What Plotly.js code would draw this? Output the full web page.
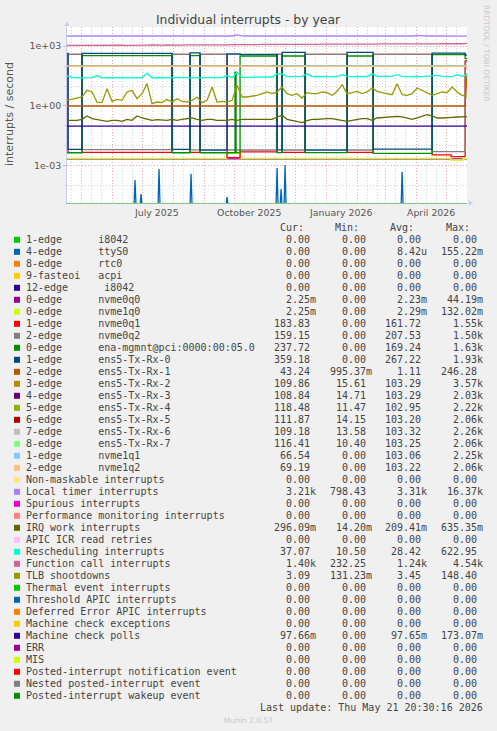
<!DOCTYPE html>
<html><head><meta charset="utf-8">
<script src="https://cdn.plot.ly/plotly-3.0.1.min.js"></script>
<style>html,body{margin:0;padding:0;background:#f0f0f0;}#chart{width:497px;height:731px;}</style>
</head><body><div id="chart"></div>
<script>
// ---------------- DATA ----------------
const START = '2025-04-17';
const END = '2026-05-21 20:30';
const FLOOR = 1e-5; // a zero, drawn at the foot of the log axis

const seriesLabels = ["1-edge      i8042","4-edge      ttyS0","8-edge      rtc0","9-fasteoi   acpi","12-edge      i8042","0-edge      nvme0q0","0-edge      nvme1q0","1-edge      nvme0q1","2-edge      nvme0q2","0-edge      ena-mgmnt@pci:0000:00:05.0","1-edge      ens5-Tx-Rx-0","2-edge      ens5-Tx-Rx-1","3-edge      ens5-Tx-Rx-2","4-edge      ens5-Tx-Rx-3","5-edge      ens5-Tx-Rx-4","6-edge      ens5-Tx-Rx-5","7-edge      ens5-Tx-Rx-6","8-edge      ens5-Tx-Rx-7","1-edge      nvme1q1","2-edge      nvme1q2","Non-maskable interrupts","Local timer interrupts","Spurious interrupts","Performance monitoring interrupts","IRQ work interrupts","APIC ICR read retries","Rescheduling interrupts","Function call interrupts","TLB shootdowns","Thermal event interrupts","Threshold APIC interrupts","Deferred Error APIC interrupts","Machine check exceptions","Machine check polls","ERR","MIS","Posted-interrupt notification event","Nested posted-interrupt event","Posted-interrupt wakeup event"];
const seriesColors = ['#00CC00','#0066B3','#FF8000','#FFCC00','#330099','#990099','#CCFF00','#FF0000','#808080','#008F00','#00487D','#B35A00','#B38F00','#6B006B','#8FB300','#B30000','#BEBEBE','#80FF80','#80C9FF','#FFC080','#FFE680','#AA80FF','#EE00CC','#FF8080','#666600','#FFBFFF','#00FFCC','#CC6699','#999900','#00CC00','#0066B3','#FF8000','#FFCC00','#330099','#990099','#CCFF00','#FF0000','#808080','#008F00'];
const curText = ["0.00","0.00","0.00","0.00","0.00","2.25m","2.25m","183.83","159.15","237.72","359.18","43.24","109.86","108.84","118.48","111.87","109.18","116.41","66.54","69.19","0.00","3.21k","0.00","0.00","296.09m","0.00","37.07","1.40k","3.09","0.00","0.00","0.00","0.00","97.66m","0.00","0.00","0.00","0.00","0.00"];
const minText = ["0.00","0.00","0.00","0.00","0.00","0.00","0.00","0.00","0.00","0.00","0.00","995.37m","15.61","14.71","11.47","14.15","13.58","10.40","0.00","0.00","0.00","798.43","0.00","0.00","14.20m","0.00","10.50","232.25","131.23m","0.00","0.00","0.00","0.00","0.00","0.00","0.00","0.00","0.00","0.00"];
const avgText = ["0.00","8.42u","0.00","0.00","0.00","2.23m","2.29m","161.72","207.53","169.24","267.22","1.11","103.29","103.29","102.95","103.20","103.32","103.25","103.06","103.22","0.00","3.31k","0.00","0.00","209.41m","0.00","28.42","1.24k","3.45","0.00","0.00","0.00","0.00","97.65m","0.00","0.00","0.00","0.00","0.00"];
const maxText = ["0.00","155.22m","0.00","0.00","0.00","44.19m","132.02m","1.55k","1.50k","1.63k","1.93k","246.28","3.57k","2.03k","2.22k","2.06k","2.26k","2.06k","2.25k","2.06k","0.00","16.37k","0.00","0.00","635.35m","0.00","622.95","4.54k","148.40","0.00","0.00","0.00","0.00","173.07m","0.00","0.00","0.00","0.00","0.00"];

const xLabelDates = ['2025-07-15','2025-10-16','2026-01-15','2026-04-16'];
const xLabelText = ['July 2025','October 2025','January 2026','April 2026'];
const yTickVals = [1e-3, 1, 1e3];
const yTickText = ['1e-03','1e+00','1e+03'];

// 5-day sampled series (80 samples from START every 5 days, then the last value at END)
const tlb = [1.92,2.16,2.33,2.83,6.1,5.04,1.58,1.47,7.4,1.71,
  2.16,1.92,5.04,6.1,2.33,4.15,13.2,1.31,1.58,1.47,
  2.16,1.58,2.33,1.71,1.58,1.92,2.83,1.47,1.92,8.97,
  1.58,1.71,1.58,1.92,10.9,2.83,2.83,3.05,3.43,4.15,
  5.04,4.15,5.04,8.97,4.15,3.43,4.15,2.52,4.66,4.15,
  4.15,5.04,4.66,3.43,5.43,11.7,4.15,4.66,5.43,4.15,
  5.04,8.0,5.43,4.66,4.15,3.7,13.2,3.7,3.43,4.15,
  8.0,6.1,4.66,3.43,4.15,5.04,4.66,8.97,5.04,3.43,3.09];
const irqWork = [0.191,0.191,0.191,0.214,0.315,0.231,0.214,0.191,0.170,0.191,
  0.191,0.170,0.214,0.191,0.315,0.250,0.214,0.191,0.206,0.191,
  0.191,0.214,0.191,0.214,0.231,0.250,0.214,0.191,0.214,0.214,
  0.191,0.191,0.191,0.214,0.191,0.214,0.214,0.214,0.231,0.214,
  0.214,0.214,0.281,0.340,0.214,0.191,0.170,0.146,0.184,0.214,
  0.214,0.231,0.231,0.231,0.214,0.184,0.170,0.191,0.214,0.231,
  0.231,0.191,0.250,0.260,0.270,0.281,0.303,0.281,0.250,0.214,
  0.250,0.303,0.367,0.315,0.250,0.250,0.250,0.270,0.281,0.281,0.296];
const resched = [32,27,26,26.5,26,26.5,33.6,26,26.4,26,
  27,26,26.4,26,26.5,26,45,26,26.5,26,
  26.4,26,27,26,26.5,26,26.4,26,26.5,26,
  26,26.5,33.6,26.5,50,27,27.5,28,28,28.5,
  29,28.5,41,41,30,30.5,30,30.5,41,30,
  30.5,30,31,30.5,30,37,30.5,30,31,30.5,
  30,41,30.5,30,31,30.5,37,30.5,30,31,
  30.5,30,31,30.5,34,30.5,31,30,37,30.5,37.07];
const localTimer = [3250,3250,3240,3250,3260,3250,3250,3240,3250,3250,
  3260,3250,3250,3240,3250,3250,3260,3250,3250,3500,
  3250,3240,3250,3260,3250,3250,3240,3250,3250,3260,
  3250,3250,3240,3250,3700,3260,3250,3250,3240,3250,
  3260,3250,3250,3240,3250,3260,3250,3250,3240,3250,
  3260,3250,3250,3240,3250,3000,3250,3260,3250,3250,
  3240,3250,3260,3250,3250,3240,3250,3250,3260,3250,
  3500,3250,3240,3250,3260,3250,3250,3240,3250,3250,3210];
const funcCall = [1100,1110,1090,1120,1100,1110,1130,1100,1120,1110,
  1130,1120,1100,1130,1140,1120,1130,1150,1120,1140,
  1160,1130,1150,1140,1160,1150,1170,1150,1180,1160,
  1170,1190,1170,1200,1180,1190,1210,1190,1200,1220,
  1200,1210,1230,1210,1220,1240,1220,1230,1250,1230,
  1240,1260,1240,1250,1270,1250,1260,1280,1260,1270,
  1290,1270,1280,1300,1280,1290,1310,1290,1300,1320,
  1300,1310,1330,1310,1320,1340,1320,1330,1350,1330,1400];

// step series (value holds from each date to the next)
const txrx0Dates = ['2025-04-17','2025-04-18','2025-05-02','2025-07-31','2025-08-18','2025-08-28','2025-09-24','2025-10-07','2025-11-13','2025-11-18','2025-12-11','2026-01-22','2026-02-17','2026-04-17','2026-05-20',END];
const txrx0Vals  = [440,6.7e-3,440,6.7e-3,460,6.2e-3,405,390,6.3e-3,495,6.2e-3,495,6.9e-3,450,359.18,359.18];
const enaDates = ['2025-04-17','2025-05-02','2025-07-31','2025-08-18','2025-08-28','2025-10-02','2025-10-03','2025-10-07','2025-11-13','2025-11-18','2025-12-11','2026-01-22','2026-02-17','2026-04-17','2026-05-20',END];
const enaVals  = [4.5e-3,333,4.5e-3,333,4.5e-3,50,4.6e-3,322,4.6e-3,322,4.6e-3,322,4.2e-3,375,237.72,237.72];
const nvme0q1Dates = ['2025-04-17','2025-04-18','2025-05-02','2025-07-31','2025-08-18','2025-08-28','2025-09-24','2025-10-07','2025-11-13','2025-11-18','2025-12-11','2026-01-22','2026-02-17','2026-04-17','2026-05-06','2026-05-20',END];
const nvme0q1Vals  = [4.75e-3,385,4.75e-3,385,4.75e-3,385,2.55e-3,5.0e-3,385,4.75e-3,385,4.75e-3,385,3.5e-3,2.9e-3,183.83,183.83];
const nvme0q2Dates = ['2025-04-17','2025-04-18','2025-05-02','2025-07-31','2025-08-18','2025-08-28','2025-09-24','2025-11-13','2025-11-18','2025-12-11','2026-01-22','2026-02-17','2026-04-17','2026-05-20',END];
const nvme0q2Vals  = [6.5e-3,393,6.5e-3,393,6.3e-3,393,6.2e-3,393,6.2e-3,393,6.2e-3,393,5.1e-3,159.15,159.15];
const nvme1q0Dates = ['2025-04-17','2025-09-24','2025-10-07','2026-05-06','2026-05-18',END];
const nvme1q0Vals  = [2.38e-3,4.2e-3,2.38e-3,1.95e-3,2.25e-3,2.25e-3];
const nvme0q0Dates = ['2025-04-17',END];
const nvme0q0Vals  = [2.23e-3,2.25e-3];
const txrx1Dates = ['2025-04-17','2026-05-20',END];
const txrx1Vals  = [1.0,1.0,43.24];
const queueDates = ['2025-04-17','2025-11-18','2026-05-20',END];
const txrx2Vals = [98,101,101,109.86];
const txrx3Vals = [98,101,101,108.84];
const txrx4Vals = [98,101,101,118.48];
const txrx5Vals = [98,101,101,111.87];
const txrx6Vals = [98,101,101,109.18];
const txrx7Vals = [98,101,101,116.41];
const nvme1q1Vals = [98,100,100,66.54];
const nvme1q2Vals = [98,98,98,69.19];
const mcpDates = [START,END];
const mcpVals = [0.0977,0.0977];
// ttyS0: isolated spikes, zero elsewhere
const ttyDates = ['2025-06-24','2025-06-30','2025-07-18','2025-08-19','2025-09-24','2025-11-13','2025-11-17','2025-11-21','2026-03-18'];
const ttyVals  = [1.94e-4,3.85e-5,6.9e-4,4.0e-4,2.8e-5,7.8e-4,6.9e-5,1.06e-3,5.06e-4];

// ---------------- BUILD ----------------
const DAY = 86400000;
const startMs = Date.parse(START + 'T00:00:00Z');
const dstr = ms => new Date(ms).toISOString().slice(0,10);
const grid5 = Array.from({length:80}, (_, i) => dstr(startMs + 5*i*DAY)).concat([END]);

const ttyX = [], ttyY = [];
ttyDates.forEach((d, i) => {
  const ms = Date.parse(d + 'T00:00:00Z');
  ttyX.push(dstr(ms - DAY), d, dstr(ms + DAY));
  ttyY.push(FLOOR, ttyVals[i], FLOOR);
});

const traceSpec = {
  1: [ttyX, ttyY, 'linear'],
  5: [nvme0q0Dates, nvme0q0Vals, 'hv'],
  6: [nvme1q0Dates, nvme1q0Vals, 'hv'],
  7: [nvme0q1Dates, nvme0q1Vals, 'hv'],
  8: [nvme0q2Dates, nvme0q2Vals, 'hv'],
  9: [enaDates, enaVals, 'hv'],
  10: [txrx0Dates, txrx0Vals, 'hv'],
  11: [txrx1Dates, txrx1Vals, 'linear'],
  12: [queueDates, txrx2Vals, 'hv'],
  13: [queueDates, txrx3Vals, 'hv'],
  14: [queueDates, txrx4Vals, 'hv'],
  15: [queueDates, txrx5Vals, 'hv'],
  16: [queueDates, txrx6Vals, 'hv'],
  17: [queueDates, txrx7Vals, 'hv'],
  18: [queueDates, nvme1q1Vals, 'hv'],
  19: [queueDates, nvme1q2Vals, 'hv'],
  21: [grid5, localTimer, 'linear'],
  24: [grid5, irqWork, 'linear'],
  26: [grid5, resched, 'linear'],
  27: [grid5, funcCall, 'linear'],
  28: [grid5, tlb, 'linear'],
  33: [mcpDates, mcpVals, 'linear']
};
const traces = [];
for (let i = 0; i < seriesLabels.length; i++) {
  if (!traceSpec[i]) continue;
  const [x, y, shape] = traceSpec[i];
  traces.push({type:'scatter', mode:'lines', x, y, name: seriesLabels[i],
    line:{color: seriesColors[i], width:1.3, shape}, hoverinfo:'skip'});
}

// pixel helpers for the text block under the plot
const L = 67, R = 467, T = 27, B = 203;
const px = v => (v - L) / (R - L);
const py = v => (B - v) / (B - T);
const nb = s => s.replace(/ /g, '\u00a0');
const mono = {family:'DejaVu Sans Mono', size:10, color:'#444'};

const annotations = [];
const shapes = [];
const A = (text, x, y, xanchor, font, extra) => annotations.push(Object.assign({
  text, x, y, xref:'paper', yref:'paper', xanchor, yanchor:'middle', showarrow:false,
  borderpad:0, borderwidth:0, font}, extra || {}));

// header
[['Cur:',303.5],['Min:',358.5],['Avg:',413.5],['Max:',470]].forEach(([t, x]) => A(t, px(x), py(227.5), 'right', mono));
const colRight = [315.8, 371.6, 426.8, 482.8];
seriesLabels.forEach((lab, i) => {
  const yy = 239.8 + 12 * i;
  shapes.push({type:'rect', xref:'paper', yref:'paper', x0:px(14), x1:px(20), y0:py(yy+3), y1:py(yy-3),
    fillcolor: seriesColors[i], line:{width:0}});
  A(nb(lab), px(26), py(yy), 'left', mono);
  [curText[i], minText[i], avgText[i], maxText[i]].forEach((v, k) => {
    const t = /[a-z]$/.test(v) ? v : v + '\u00a0';
    A(t, px(colRight[k]), py(yy), 'right', mono);
  });
});
A(nb('Last update: Thu May 21 20:30:16 2026'), px(482.8), py(707.5), 'right', mono);
A('Munin 2.0.57', px(248), py(720), 'center', {family:'DejaVu Sans', size:7.5, color:'#c8c8c8'});
A('RRDTOOL / TOBI OETIKER', px(487), py(53), 'center', {family:'DejaVu Sans', size:7.5, color:'#c8c8c8'}, {textangle:90});
A('interrupts / second', px(10), py(114), 'center', {family:'DejaVu Sans', size:11, color:'#555'}, {textangle:-90});
xLabelDates.forEach((d, i) => annotations.push({text:xLabelText[i], x:d, xref:'x', y:py(212.3), yref:'paper',
  xanchor:'center', yanchor:'middle', showarrow:false, borderpad:0, borderwidth:0,
  font:{family:'DejaVu Sans', size:9.4, color:'#555'}}));

// axis arrows
const tri = pts => 'M' + pts.map(p => px(p[0]) + ',' + py(p[1])).join(' L') + ' Z';
shapes.push({type:'path', xref:'paper', yref:'paper', path: tri([[64.5,26],[69.5,26],[67,21]]), fillcolor:'#c8ccf4', line:{width:0}});
shapes.push({type:'path', xref:'paper', yref:'paper', path: tri([[468.5,200.5],[468.5,205.5],[473.5,203]]), fillcolor:'#c8ccf4', line:{width:0}});

// grid positions
const monthStarts = [], minorDays = ['2025-04-21'];
for (let m = 4; m <= 16; m++) {
  const y = 2025 + Math.floor(m / 12), mm = (m % 12) + 1;
  const p = y + '-' + String(mm).padStart(2, '0');
  monthStarts.push(p + '-01');
  minorDays.push(p + '-11', p + '-21');
}

const layout = {
  width:497, height:731, margin:{l:67, r:30, t:27, b:528, pad:0},
  paper_bgcolor:'#f0f0f0', plot_bgcolor:'#ffffff', showlegend:false,
  title:{text:'Individual interrupts - by year', font:{family:'DejaVu Sans', size:12.4, color:'#444'},
    xref:'container', x:248/497, xanchor:'center', yref:'container', y:1 - 19.3/731, yanchor:'middle'},
  xaxis:{type:'date', range:[START, END], tickmode:'array', tickvals:monthStarts, showticklabels:false,
    showgrid:true, gridcolor:'#eba9a9', griddash:'1px,2px', gridwidth:1, zeroline:false,
    showline:true, linecolor:'#80c780', linewidth:1, ticks:'',
    minor:{tickmode:'array', tickvals:minorDays, showgrid:true, gridcolor:'#d4d4d4', griddash:'1px,2px', gridwidth:1, ticks:''}},
  yaxis:{type:'log', range:[-4.867, 3.963], tickmode:'array', tickvals:yTickVals, ticktext:yTickText,
    showgrid:true, gridcolor:'#eba9a9', griddash:'1px,2px', gridwidth:1, zeroline:false,
    showline:true, linecolor:'#c8ccf4', linewidth:1, ticks:'outside', ticklen:3, tickcolor:'#eba9a9',
    tickfont:{family:'DejaVu Sans', size:9.4, color:'#555'},
    minor:{tickmode:'array', tickvals:[1e-4,1e-2,1e-1,1e1,1e2], showgrid:true, gridcolor:'#d4d4d4', griddash:'1px,2px', gridwidth:1, ticks:'outside', ticklen:2, tickcolor:'#d4d4d4'}},
  annotations, shapes
};
Plotly.newPlot('chart', traces, layout, {staticPlot:true, displayModeBar:false});
</script></body></html>
